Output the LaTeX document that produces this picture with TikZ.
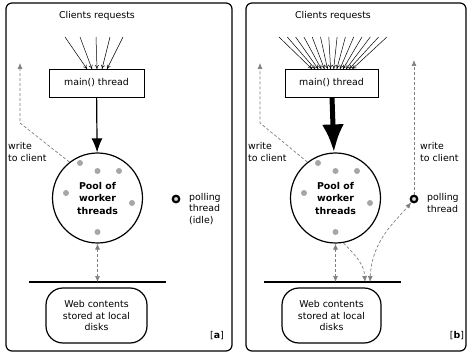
\documentclass[tikz,border=0pt]{standalone}
\usepackage{fontspec}
\setmainfont{DejaVu Sans}
\usetikzlibrary{arrows.meta, calc}

\begin{document}
\begin{tikzpicture}[x=1pt, y=-1pt, font=\fontsize{9.4}{11.2}\selectfont,
  panel/.style={draw, line width=1.2pt, rounded corners=6pt},
  threadbox/.style={draw, line width=0.6pt, minimum width=95pt, minimum height=28pt, inner sep=0pt},
  pool/.style={draw, circle, line width=1.2pt, minimum size=90pt, inner sep=0pt, font=\fontsize{9.4}{12.5}\selectfont\bfseries, align=center},
  disks/.style={draw, line width=1.2pt, rounded corners=17pt, minimum width=101pt, minimum height=55pt, align=center, inner sep=0pt},
  worker/.style={circle, fill=gray!70, minimum size=6pt, inner sep=0pt},
  poller/.style={circle, draw, line width=2.2pt, fill=gray!30, minimum size=6.5pt, inner sep=0pt},
  request/.style={-{To[length=4pt,width=4pt]}, line width=0.5pt},
  flow/.style={gray, line width=0.7pt, dash pattern=on 3pt off 2pt, {Latex[length=6pt,width=5pt]}-{Latex[length=6pt,width=5pt]}},
  reply/.style={gray, line width=0.7pt, dash pattern=on 3pt off 2pt, -{Latex[length=6pt,width=5pt]}},
  note/.style={align=left, anchor=west, inner sep=0pt}]
\useasboundingbox (0, 0) rectangle (468, 355);

% panel [a]
\draw [panel] (6, 3) rectangle (232, 351);
\node (titleA) at (97, 16) {Clients requests};
\node [threadbox] (mainA) at (96.5, 83) {main() thread};
\node [pool] (poolA) at (97.5, 198) {Pool of\\worker\\threads};
\foreach \x/\y in {-17.5/-35, 0/-27, 21.5/-27, -31.5/-5, 34.5/5, 0/34}{\node [worker] at ($(poolA)+(\x, \y)$) {};}
\foreach \s/\e in {65/87, 80/92, 96/97, 110/102, 123/107}{\draw [request] (\s, 37) -- (\e, 69);}
\draw [line width=1.2pt, -{Latex[length=14pt,width=11pt]}] (mainA) -- (poolA);
\coordinate (diskA) at (97.5, 282);
\draw [line width=1.2pt] (29, 282) -- (166, 282);
\draw [flow] (poolA) -- (diskA);
\node [disks] (webA) at (96.5, 315.5) {Web contents\\stored at local\\disks};
\node (tagA) at (217, 336) {[\textbf{a}]};
\coordinate (bendA) at (20, 123);
\coordinate (clientA) at (20, 63);
\draw [reply] (poolA.128) -- (bendA) -- (clientA);
\node [note] (writeA) at (8, 152) {write\\to client};
\node [poller] (pollA) at (176, 199) {};
\node [note] (pollTextA) at (189, 209) {polling\\thread\\(idle)};

% panel [b]
\draw [panel] (246, 3) rectangle (466, 351);
\node (titleB) at (333, 16) {Clients requests};
\node [threadbox, minimum width=93pt] (mainB) at (331.5, 83) {main() thread};
\node [pool] (poolB) at (335.5, 198) {Pool of\\worker\\threads};
\foreach \x/\y in {-17.5/-35, 0/-27, 21.5/-27, -31.5/-5, 34.5/5, 0/34}{\node [worker] at ($(poolB)+(\x, \y)$) {};}
\foreach \i in {0, 1, ..., 13}{\draw [request] (279 + \i*8.3, 37) -- (312 + \i*3.1, 69);}
\draw [line width=5pt, -{Latex[length=28pt,width=22pt]}] (mainB) -- (poolB);
\coordinate (diskB) at (335.5, 282);
\coordinate (diskInB) at (365, 282);
\coordinate (diskOutB) at (370, 282);
\draw [line width=1.2pt] (264, 282) -- (401, 282);
\draw [flow] (poolB) -- (diskB);
\node [disks, minimum width=99pt] (webB) at (331.5, 315.5) {Web contents\\stored at local\\disks};
\node (tagB) at (457, 336) {[\textbf{b}]};
\coordinate (bendB) at (260, 123);
\coordinate (clientB) at (260, 63);
\draw [reply] (poolB.128) -- (bendB) -- (clientB);
\node [note] (writeB) at (248, 152) {write\\to client};
\node [poller] (pollB) at (414, 199) {};
\coordinate (clientPollB) at (414, 60);
\draw [reply] (pollB) -- (clientPollB);
\node [note] (writePollB) at (420, 152) {write\\to client};
\node [note] (pollTextB) at (427, 203) {polling\\thread};
\draw [reply] (poolB.-80) .. controls (358, 258) and (364, 265) .. (diskInB);
\draw [flow] (diskOutB) .. controls (372, 240) and (395, 222) .. (pollB);
\end{tikzpicture}
\end{document}
